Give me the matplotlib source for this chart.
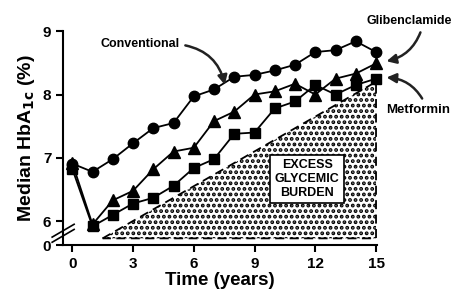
import matplotlib
matplotlib.use("Agg")
import matplotlib.pyplot as plt
from matplotlib.patches import Polygon

plt.rcParams['font.family'] = ['Liberation Sans', 'DejaVu Sans']
plt.rcParams['font.weight'] = 'bold'
plt.rcParams['hatch.linewidth'] = 1.9

years = list(range(16))
conventional = [6.91, 6.78, 6.98, 7.23, 7.47, 7.55, 7.97, 8.08, 8.28, 8.31, 8.38, 8.47, 8.67, 8.70, 8.84, 8.67]
glibenclamide = [6.92, 5.95, 6.33, 6.48, 6.82, 7.10, 7.16, 7.58, 7.73, 8.00, 8.05, 8.17, 8.00, 8.25, 8.33, 8.49]
metformin = [6.83, 5.92, 6.10, 6.28, 6.37, 6.56, 6.84, 6.98, 7.38, 7.40, 7.78, 7.89, 8.15, 8.00, 8.15, 8.25]

burden_x = [1.5, 15, 15]
burden_y = [5.73, 8.2, 5.73]

xticks = [0, 3, 6, 9, 12, 15]
yticks = [5.625, 6, 7, 8, 9]
ytick_labels = ['0', '6', '7', '8', '9']

fig = plt.figure(figsize=(4.51, 2.91), dpi=100)
ax = fig.add_axes([0.14, 0.158, 0.696, 0.735])

# excess glycemic burden area
tri = Polygon(list(zip(burden_x, burden_y)), closed=True, facecolor='white',
              edgecolor='black', hatch='...', linestyle=(0, (5, 3)), linewidth=1.3)
ax.add_patch(tri)

ax.plot(years, conventional, '-o', color='black', ms=7.5, lw=1.3, clip_on=False, zorder=3)
ax.plot(years, glibenclamide, '-^', color='black', ms=8, lw=1.3, clip_on=False, zorder=3)
ax.plot(years, metformin, '-s', color='black', ms=7, lw=1.3, clip_on=False, zorder=3)

ax.text(11.6, 6.67, 'EXCESS\nGLYCEMIC\nBURDEN', ha='center', va='center', fontsize=9,
        fontweight='bold', linespacing=1.2,
        bbox=dict(boxstyle='square,pad=0.35', facecolor='white', edgecolor='black', lw=1.2))

ax.set_xlim(-0.45, 15.05)
ax.set_ylim(5.625, 9)
ax.set_xticks(xticks)
ax.set_yticks(yticks)
ax.set_yticklabels(ytick_labels)
ax.tick_params(labelsize=11, width=1.5, length=5)
for lab in ax.get_xticklabels() + ax.get_yticklabels():
    lab.set_fontweight('bold')

for s in ['top', 'right']:
    ax.spines[s].set_visible(False)
for s in ['left', 'bottom']:
    ax.spines[s].set_linewidth(1.5)

# axis break marks
for dy in [-0.012, 0.012]:
    ax.plot([-0.035, 0.035], [0.025 + dy, 0.085 + dy], transform=ax.transAxes,
            color='black', lw=1.2, clip_on=False)

ax.set_xlabel('Time (years)', fontsize=13.5, fontweight='bold', labelpad=1)
ax.set_ylabel('Median HbA$_{\\mathbf{1c}}$ (%)', fontsize=14, fontweight='bold', labelpad=4)

arrow = dict(arrowstyle='-|>', color='#222222', lw=1.8, mutation_scale=14, shrinkA=2, shrinkB=1)
ax.annotate('Conventional', xy=(7.55, 8.13), xytext=(3.36, 8.79), fontsize=9, fontweight='bold',
            ha='center', va='center', annotation_clip=False,
            arrowprops=dict(arrow, connectionstyle='arc3,rad=-0.35', relpos=(1, 0.5)))
ax.annotate('Glibenclamide', xy=(15.45, 8.52), xytext=(16.65, 9.16), fontsize=9, fontweight='bold',
            ha='center', va='center', annotation_clip=False,
            arrowprops=dict(arrow, connectionstyle='arc3,rad=-0.3', relpos=(0.65, 0)))
ax.annotate('Metformin', xy=(15.45, 8.27), xytext=(17.1, 7.76), fontsize=9.5, fontweight='bold',
            ha='center', va='center', annotation_clip=False,
            arrowprops=dict(arrow, connectionstyle='arc3,rad=0.3', relpos=(0.6, 1)))

fig.savefig('out.png', dpi=100)
